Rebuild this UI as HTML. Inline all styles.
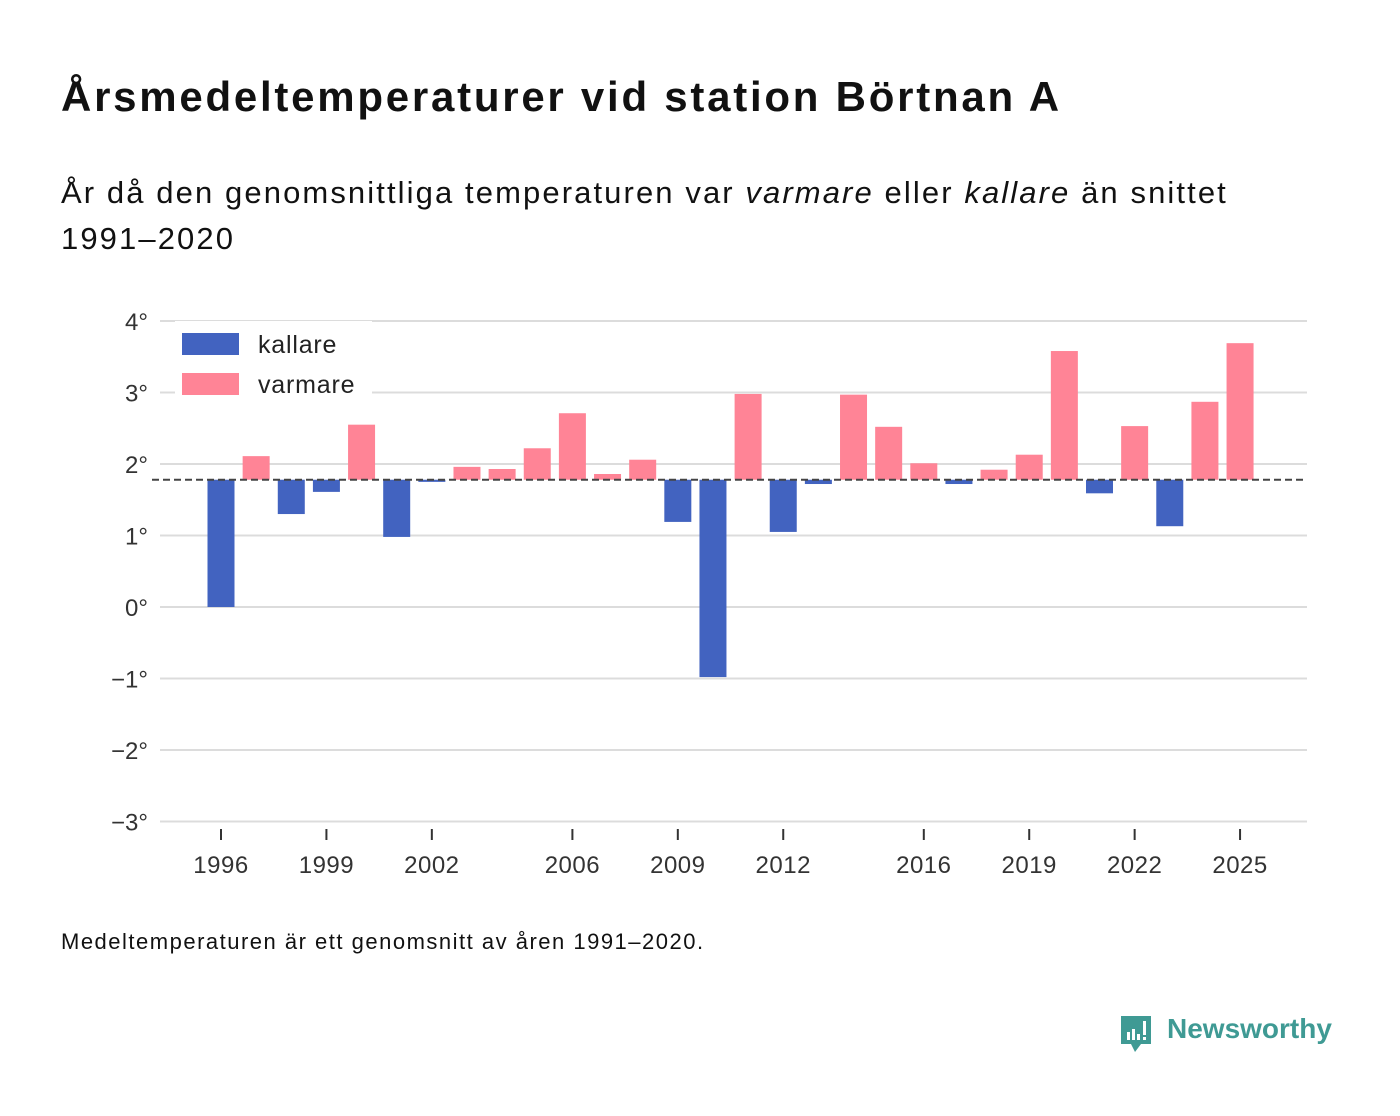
<!DOCTYPE html>
<html><head><meta charset="utf-8"><style>
body{margin:0;background:#fff;font-family:"Liberation Sans",sans-serif;color:#111}
#wrap{position:relative;width:1400px;height:1116px;overflow:hidden}
</style></head><body><div id="wrap">
<div style="position:absolute;left:61px;top:73px;font-size:42px;font-weight:bold;letter-spacing:2.75px;white-space:nowrap">Årsmedeltemperaturer vid station Börtnan A</div>
<div style="position:absolute;left:61px;top:170px;font-size:31px;line-height:46px;letter-spacing:2.1px;width:1300px">År då den genomsnittliga temperaturen var <i>varmare</i> eller <i>kallare</i> än snittet<br>1991–2020</div>
<svg id="chart" width="1400" height="1116" style="position:absolute;left:0;top:0"></svg>
<div style="position:absolute;left:61px;top:929px;font-size:22px;letter-spacing:1.5px;white-space:nowrap">Medeltemperaturen är ett genomsnitt av åren 1991–2020.</div>
<div style="position:absolute;left:1119px;top:1012px;height:44px">
<svg width="36" height="44" style="position:absolute;left:0;top:2px"><path d="M2 2h30v28H22l-6 8-4-8H2z" fill="#3f9a94"/><rect x="8" y="18" width="3" height="8" fill="#fff"/><rect x="13" y="15" width="3" height="11" fill="#fff"/><rect x="18" y="20" width="3" height="6" fill="#fff"/><rect x="24" y="7" width="3" height="14" fill="#fff"/><rect x="24" y="23" width="3" height="3" fill="#fff"/></svg>
<span style="position:absolute;left:48px;top:1px;font-size:28px;font-weight:bold;color:#3f9a94;white-space:nowrap">Newsworthy</span></div>
</div>
<script>
const years=[1996,1997,1998,1999,2000,2001,2002,2003,2004,2005,2006,2007,2008,2009,2010,2011,2012,2013,2014,2015,2016,2017,2018,2019,2020,2021,2022,2023,2024,2025];
const temps=[0.0,2.11,1.30,1.61,2.55,0.98,1.75,1.96,1.93,2.22,2.71,1.86,2.06,1.19,-0.98,2.98,1.05,1.72,2.97,2.52,2.01,1.72,1.92,2.13,3.58,1.59,2.53,1.13,2.87,3.69];
const baseline=1.78;
const yTicks=[4,3,2,1,0,-1,-2,-3];
const yTickLabels=["4°","3°","2°","1°","0°","−1°","−2°","−3°"];
const xTickYears=[1996,1999,2002,2006,2009,2012,2016,2019,2022,2025];
const NS="http://www.w3.org/2000/svg",svg=document.getElementById('chart');
const y=v=>607-v*71.5;
const x=yr=>221+(yr-1996)*35.14;
function mk(t,a){const e=document.createElementNS(NS,t);for(const k in a)e.setAttribute(k,a[k]);svg.appendChild(e);return e;}
yTicks.forEach((v,i)=>{
 const g=mk('line',{x1:160,x2:1307,y1:y(v),y2:y(v),stroke:'#dcdcdc','stroke-width':2});
 
 
 const t=mk('text',{x:148,y:y(v)+9,'text-anchor':'end','font-size':24,fill:'#333'});t.textContent=yTickLabels[i];
 
 
});
years.forEach((yr,i)=>{
 const v=temps[i],top=Math.min(y(v),y(baseline)),h=Math.abs(y(v)-y(baseline));
 const r=mk('rect',{x:x(yr)-13.5,y:top,width:27,height:Math.max(h,1),fill:v<baseline?'#4263c0':'#ff8496'});
 
 
});
const bl=mk('line',{x1:152,x2:1307,y1:y(baseline),y2:y(baseline),stroke:'#444','stroke-width':2,'stroke-dasharray':'7,4'});


xTickYears.forEach(yr=>{
 const l=mk('line',{x1:x(yr),x2:x(yr),y1:829,y2:840,stroke:'#333','stroke-width':2});
 
 
 const t=mk('text',{x:x(yr),y:873,'text-anchor':'middle','font-size':24,fill:'#333','letter-spacing':0.5});t.textContent=yr;
 
 
});
const lb=mk('rect',{x:175,y:321,width:197,height:84,fill:'#fff'});


[['kallare','#4263c0',344],['varmare','#ff8496',384]].forEach(d=>{
 const r=mk('rect',{x:182,y:d[2]-11,width:57,height:22,fill:d[1]});
 
 
 const t=mk('text',{x:258,y:d[2]+9,'font-size':25,fill:'#222','letter-spacing':0.8});t.textContent=d[0];
 
 
});
</script></body></html>
